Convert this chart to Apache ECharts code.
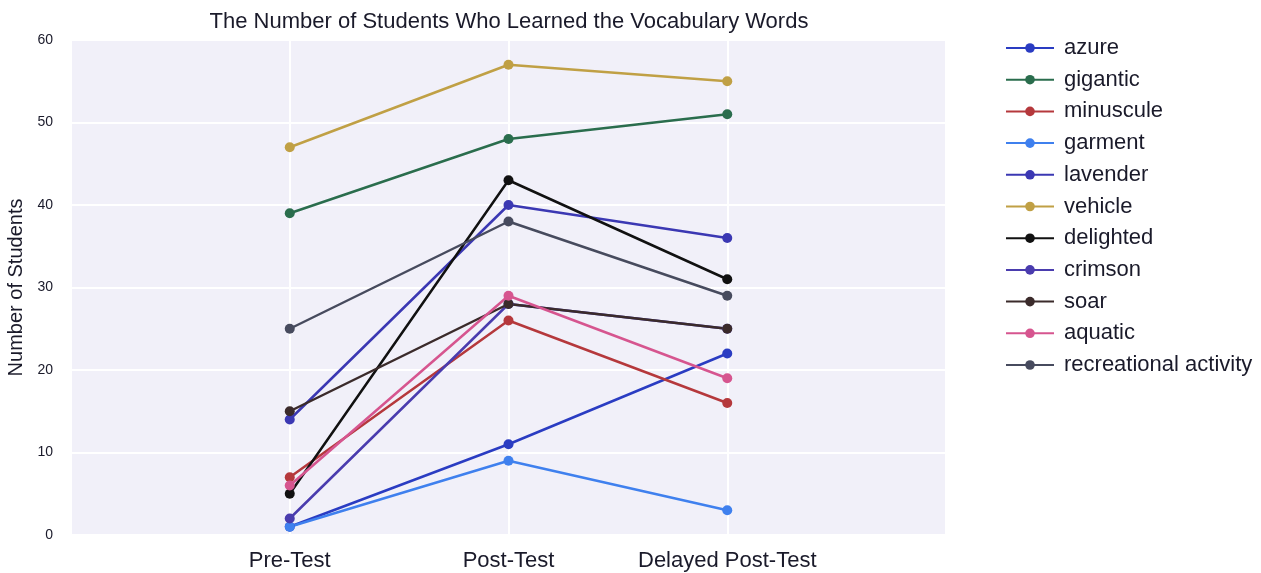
<!DOCTYPE html>
<html>
<head>
    <title>The Number of Students Who Learned the Vocabulary Words</title>
    <meta charset="utf-8" />
    <script src="https://cdn.jsdelivr.net/npm/echarts@6/dist/echarts.min.js"></script>
    <style type="text/css">
        html,
        body {
            width: 100%;
            height: 100%;
            margin: 0;
            background: #ffffff;
        }

        #main {
            width: 1261px;
            height: 573px;
        }
    </style>
</head>

<body>
    <div id="main"></div>
    <script>
        // test stages
        var categories = ['Pre-Test', 'Post-Test', 'Delayed Post-Test'];
        var yTicks = [0, 10, 20, 30, 40, 50, 60];

        // students per word, one value per stage
        var azure = [1, 11, 22];
        var gigantic = [39, 48, 51];
        var minuscule = [7, 26, 16];
        var garment = [1, 9, 3];
        var lavender = [14, 40, 36];
        var vehicle = [47, 57, 55];
        var delighted = [5, 43, 31];
        var crimson = [2, 28, 25];
        var soar = [15, 28, 25];
        var aquatic = [6, 29, 19];
        var recreational = [25, 38, 29];

        var words = [
            ['azure', azure, '#2a3cc2'],
            ['gigantic', gigantic, '#2a6d4d'],
            ['minuscule', minuscule, '#b5383c'],
            ['garment', garment, '#3f80ee'],
            ['lavender', lavender, '#3b38b3'],
            ['vehicle', vehicle, '#c0a045'],
            ['delighted', delighted, '#111111'],
            ['crimson', crimson, '#4a3cae'],
            ['soar', soar, '#3b2b2b'],
            ['aquatic', aquatic, '#d6558f'],
            ['recreational activity', recreational, '#474b5e']
        ];

        var font = '"Liberation Sans", Arial, sans-serif';
        var myChart = echarts.init(document.getElementById('main'));

        var series = words.map(function (w) {
            return {
                name: w[0],
                type: 'line',
                data: w[1].map(function (v, i) { return [i, v]; }),
                symbol: 'circle',
                symbolSize: 10,
                lineStyle: { width: 2.5, color: w[2] },
                itemStyle: { color: w[2] },
                emphasis: { disabled: true },
                z: 3
            };
        });

        var option = {
            animation: false,
            title: {
                text: 'The Number of Students Who Learned the Vocabulary Words',
                left: 504,
                top: 6,
                textAlign: 'center',
                textStyle: { fontFamily: font, fontSize: 22, fontWeight: 'normal', color: '#1a1a2a' }
            },
            legend: {
                orient: 'vertical',
                left: 1000,
                top: 32,
                itemWidth: 48,
                itemHeight: 12,
                itemGap: 9.7,
                textStyle: { fontFamily: font, fontSize: 22, color: '#1a1a2a', padding: [0, 0, 0, 5] }
            },
            grid: {
                left: 71,
                right: 315,
                top: 40,
                bottom: 38,
                outerBoundsMode: 'none',
                show: true,
                backgroundColor: '#f1f0f9',
                borderWidth: 0
            },
            xAxis: {
                type: 'value',
                min: -1,
                max: 3,
                interval: 1,
                axisLine: { show: false },
                axisTick: { show: false },
                splitLine: { show: true, lineStyle: { color: '#ffffff', width: 2 } },
                axisLabel: {
                    fontFamily: font,
                    fontSize: 22,
                    color: '#1a1a2a',
                    margin: 15,
                    formatter: function (v) { return categories[v] || ''; }
                }
            },
            yAxis: {
                type: 'value',
                min: yTicks[0],
                max: yTicks[yTicks.length - 1],
                interval: 10,
                name: 'Number of Students',
                nameLocation: 'middle',
                nameGap: 44,
                nameTextStyle: { fontFamily: font, fontSize: 20, color: '#1a1a2a' },
                axisLine: { show: false },
                axisTick: { show: false },
                splitLine: { show: true, lineStyle: { color: '#ffffff', width: 2 } },
                axisLabel: { fontFamily: font, fontSize: 14, color: '#1a1a2a', margin: 18 }
            },
            series: series
        };

        myChart.setOption(option);
    </script>
</body>
</html>
